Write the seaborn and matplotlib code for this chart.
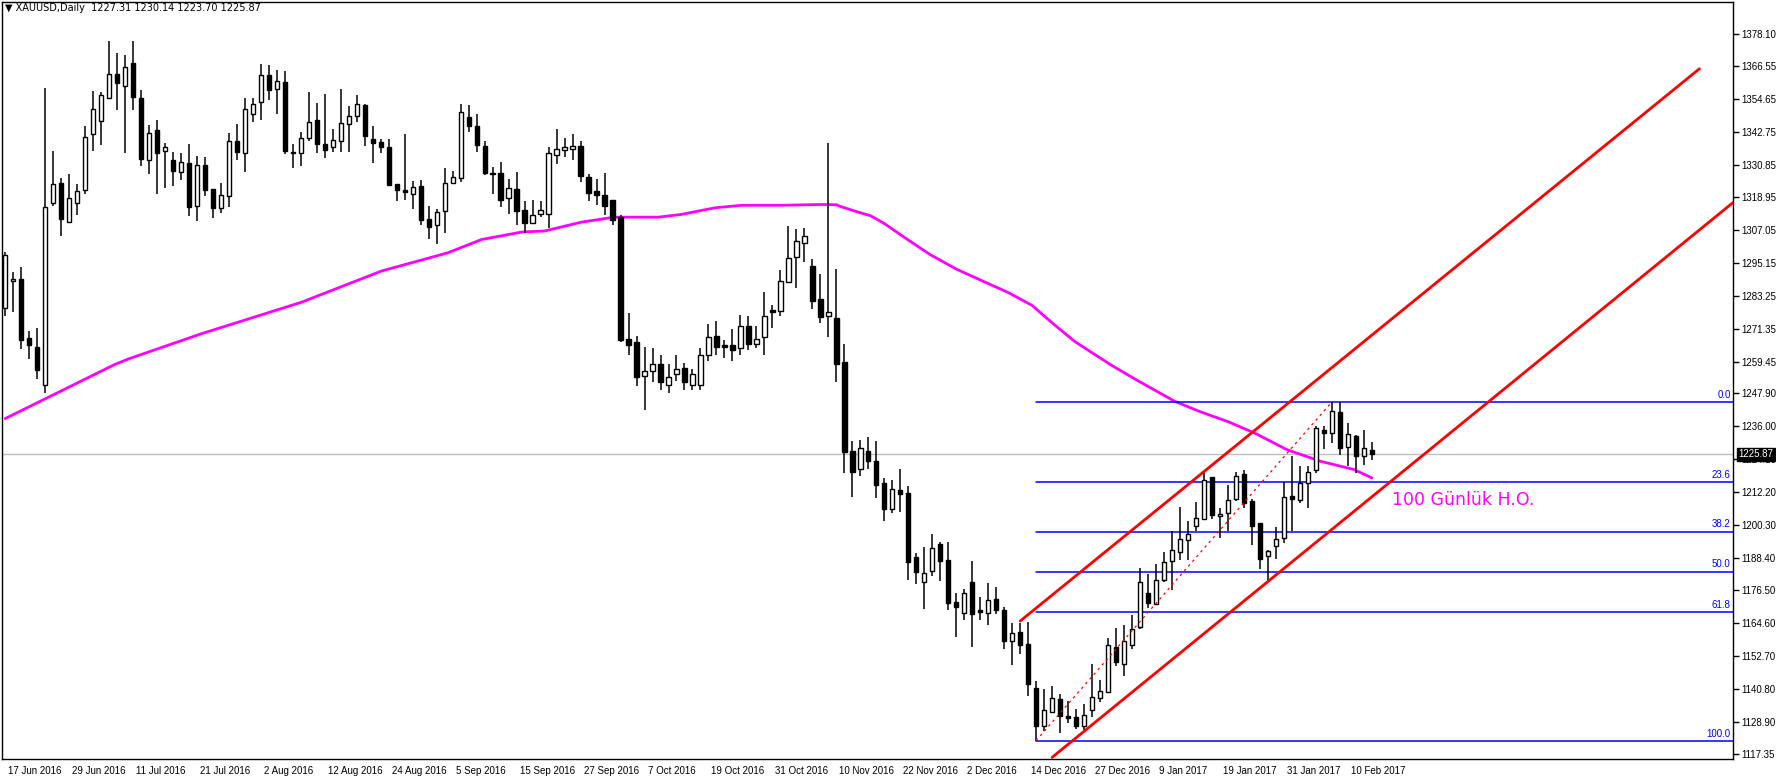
import numpy as np
import pandas as pd
import matplotlib
matplotlib.use("Agg")
import matplotlib.pyplot as plt
import matplotlib.transforms as mtransforms
import seaborn as sns

sns.set_style("white")
plt.rcParams['font.family'] = ['Liberation Sans', 'DejaVu Sans']

# ---------------- data (O, H, L, C per daily bar) ----------------
opens = [1278.9,1288.5,1289.3,1267.9,1264.7,1251.0,1317.1,1324.3,1310.2,1317.1,
         1321.8,1342.1,1346.7,1355.1,1363.8,1359.5,1367.8,1355.1,1332.7,1343.5,
         1335.9,1332.6,1328.3,1331.6,1316.0,1330.8,1322.1,1315.1,1319.3,1339.5,
         1335.2,1349.3,1353.7,1363.4,1358.4,1360.9,1335.2,1335.2,1340.6,1347.1,
         1338.5,1337.2,1339.5,1345.7,1348.6,1352.6,1340.2,1339.2,1337.4,1323.9,
         1321.5,1320.3,1323.2,1311.3,1309.0,1314.2,1324.3,1326.1,1348.2,1345.0,
         1337.7,1327.9,1327.9,1318.9,1322.1,1314.5,1309.8,1313.1,1313.1,1334.5,
         1336.3,1336.6,1337.7,1326.5,1321.4,1320.0,1318.2,1312.0,1267.8,1266.7,
         1254.4,1255.9,1258.7,1251.0,1255.1,1257.3,1251.0,1251.0,1262.0,1268.9,
         1265.3,1265.3,1264.5,1272.5,1266.0,1268.4,1278.2,1277.7,1288.3,1297.5,
         1302.5,1294.2,1282.2,1276.0,1275.3,1259.3,1226.9,1220.7,1226.9,1223.6,
         1215.3,1206.1,1212.8,1211.7,1188.5,1179.5,1183.4,1193.2,1187.4,1172.2,
         1168.2,1179.5,1169.3,1168.2,1173.3,1169.3,1158.1,1161.3,1157.1,1141.1,
         1127.5,1132.6,1137.1,1131.1,1130.8,1127.2,1133.0,1137.4,1139.6,1155.9,
         1149.8,1156.7,1163.2,1175.5,1171.5,1180.2,1187.1,1190.4,1194.8,1199.8,
         1202.4,1217.6,1203.5,1204.6,1209.6,1218.7,1208.9,1200.9,1189.0,1192.6,
         1195.5,1210.7,1209.3,1215.4,1220.2,1234.7,1233.6,1241.2,1228.5,1232.5,
         1225.2,1227.31]
highs = [1299.3,1291.8,1293.9,1270.4,1271.5,1358.5,1335.7,1326.1,1327.6,1323.9,
         1344.7,1357.6,1357.0,1375.5,1371.2,1370.7,1375.5,1358.0,1345.3,1347.1,
         1338.8,1335.5,1335.2,1338.5,1334.1,1333.7,1322.1,1324.3,1342.4,1345.7,
         1355.1,1355.1,1367.4,1366.8,1365.2,1364.9,1338.5,1342.8,1357.3,1353.3,
         1356.6,1343.9,1358.4,1352.2,1356.2,1352.9,1344.9,1340.2,1340.2,1323.9,
         1342.1,1325.0,1325.4,1316.0,1314.9,1329.7,1328.7,1352.9,1352.6,1349.3,
         1339.5,1330.1,1331.9,1325.8,1328.3,1317.8,1318.2,1317.8,1337.4,1343.9,
         1340.6,1342.1,1339.5,1327.6,1325.8,1327.9,1318.2,1312.7,1276.9,1268.9,
         1264.9,1264.5,1261.7,1258.4,1261.7,1259.1,1256.6,1264.2,1272.9,1274.0,
         1267.4,1271.4,1276.2,1275.8,1272.2,1284.7,1280.0,1292.7,1308.7,1307.6,
         1308.0,1296.7,1291.3,1338.6,1293.1,1266.0,1230.5,1230.9,1232.3,1230.5,
         1217.1,1216.7,1220.4,1214.2,1189.9,1192.1,1196.8,1193.9,1193.9,1175.5,
         1176.9,1187.1,1174.0,1179.1,1177.6,1170.4,1164.6,1164.6,1165.0,1143.6,
         1140.7,1141.8,1138.9,1136.4,1133.4,1135.2,1149.8,1144.0,1159.4,1162.8,
         1163.9,1167.6,1184.6,1182.4,1186.1,1190.4,1197.9,1206.7,1201.7,1208.5,
         1219.1,1217.6,1206.4,1214.7,1219.4,1220.2,1209.6,1200.9,1191.1,1199.5,
         1215.8,1225.2,1221.6,1221.6,1236.1,1236.1,1244.8,1244.8,1237.2,1232.9,
         1234.7,1230.14]
lows = [1276.1,1277.6,1264.1,1260.5,1253.0,1248.0,1316.0,1305.0,1309.7,1312.6,
        1320.2,1335.8,1338.0,1355.1,1350.6,1335.1,1350.6,1330.4,1327.5,1320.2,
        1322.4,1323.1,1325.3,1312.3,1310.4,1319.5,1311.5,1313.3,1315.5,1332.5,
        1328.3,1346.4,1347.1,1354.4,1349.3,1334.8,1329.8,1330.5,1339.5,1335.2,
        1333.4,1335.5,1335.5,1335.5,1346.4,1337.7,1331.6,1335.2,1323.0,1317.8,
        1318.2,1314.9,1309.0,1304.0,1302.2,1305.9,1323.9,1324.7,1342.8,1335.5,
        1327.2,1320.3,1315.6,1313.1,1309.1,1305.9,1309.5,1312.0,1307.7,1331.2,
        1333.7,1332.6,1324.7,1317.8,1316.3,1312.7,1309.1,1266.4,1261.7,1250.5,
        1242.0,1252.0,1249.0,1248.0,1252.6,1249.0,1249.0,1249.0,1259.8,1262.0,
        1260.6,1259.8,1261.7,1263.8,1264.2,1262.0,1271.6,1276.0,1287.9,1286.1,
        1295.5,1278.5,1273.4,1268.4,1252.0,1219.0,1210.5,1218.1,1220.6,1210.1,
        1201.8,1204.7,1205.0,1180.4,1179.0,1169.7,1181.6,1179.8,1169.3,1159.5,
        1165.7,1155.9,1165.7,1164.1,1167.9,1155.2,1149.6,1153.4,1138.2,1122.1,
        1125.7,1132.0,1125.0,1128.6,1126.4,1125.9,1130.8,1135.9,1139.6,1149.0,
        1145.4,1155.2,1162.5,1170.1,1171.5,1179.5,1176.6,1187.5,1187.5,1198.0,
        1202.4,1202.4,1195.5,1198.0,1208.9,1206.4,1192.9,1184.2,1180.2,1187.9,
        1193.7,1198.0,1208.2,1206.4,1219.1,1227.8,1229.9,1225.6,1221.6,1219.1,
        1222.0,1223.70]
closes = [1298.2,1289.5,1267.3,1265.5,1256.5,1315.4,1323.8,1311.2,1318.9,1321.4,
          1341.0,1351.1,1356.2,1363.8,1360.4,1366.3,1355.4,1332.9,1342.4,1335.1,
          1337.4,1328.5,1331.9,1315.5,1330.8,1321.7,1315.1,1320.0,1339.5,1335.5,
          1351.1,1352.9,1363.4,1358.0,1361.3,1335.9,1335.2,1340.6,1346.4,1338.5,
          1336.3,1339.6,1346.0,1348.6,1352.9,1341.3,1338.8,1337.4,1323.6,1321.8,
          1321.0,1322.9,1310.6,1308.4,1313.5,1324.3,1326.5,1350.0,1345.0,1338.1,
          1327.9,1327.6,1318.2,1322.5,1314.2,1309.8,1312.7,1314.5,1335.2,1336.6,
          1337.4,1337.7,1326.9,1320.7,1320.0,1316.0,1310.9,1267.1,1265.6,1253.7,
          1256.2,1258.4,1252.0,1254.0,1256.9,1252.0,1254.8,1261.7,1268.5,1264.9,
          1264.9,1263.8,1272.5,1266.0,1267.8,1276.0,1277.5,1288.7,1297.1,1303.3,
          1305.1,1281.5,1275.7,1277.5,1258.5,1226.6,1219.5,1228.0,1223.5,1214.9,
          1206.1,1213.1,1211.3,1186.9,1183.1,1182.8,1191.8,1187.1,1171.8,1170.4,
          1175.5,1168.1,1168.6,1172.9,1169.3,1158.1,1161.0,1156.6,1142.5,1127.2,
          1133.0,1137.4,1131.1,1130.1,1127.2,1131.5,1137.7,1139.9,1156.7,1150.5,
          1158.1,1162.5,1179.5,1171.9,1180.2,1186.8,1191.1,1195.1,1197.0,1202.7,
          1216.5,1203.8,1204.2,1209.3,1218.0,1208.2,1199.8,1187.9,1190.8,1195.1,
          1210.4,1209.6,1215.4,1219.4,1235.4,1233.6,1241.4,1228.1,1233.2,1225.2,
          1228.1,1225.87]

# 100-day moving average (read points: bar index, value)
ma_bar = [0, 13.7, 15.5, 24.6, 37.1, 47.1, 55.4, 59.6, 64.6, 67.5, 72.1, 76.2, 81.7,
          84.6, 88.8, 92.1, 97.1, 102.1, 104.0, 104.6, 107.1, 108.3, 110.0, 112.5,
          115.7, 119.0, 122.8, 125.5, 128.5, 131.0, 133.8, 135.6, 138.5, 141.5,
          146.3, 149.6, 152.9, 156.3, 160.4, 164.6, 168.8, 171.0]
ma_val = [1238.8, 1258.4, 1260.5, 1269.6, 1281.0, 1292.3, 1298.9, 1303.7, 1306.4,
          1306.8, 1310.0, 1311.8, 1311.8, 1312.8, 1315.2, 1316.1, 1316.1, 1316.4,
          1316.3, 1315.6, 1313.3, 1312.3, 1309.5, 1304.5, 1298.3, 1293.0, 1288.0,
          1284.5, 1279.8, 1273.5, 1266.8, 1263.4, 1258.0, 1252.9, 1245.1, 1241.2,
          1237.8, 1233.6, 1227.5, 1223.3, 1220.3, 1217.3]

date_labels = ["17 Jun 2016", "29 Jun 2016", "11 Jul 2016", "21 Jul 2016", "2 Aug 2016",
               "12 Aug 2016", "24 Aug 2016", "5 Sep 2016", "15 Sep 2016", "27 Sep 2016",
               "7 Oct 2016", "19 Oct 2016", "31 Oct 2016", "10 Nov 2016", "22 Nov 2016",
               "2 Dec 2016", "14 Dec 2016", "27 Dec 2016", "9 Jan 2017", "19 Jan 2017",
               "31 Jan 2017", "10 Feb 2017"]
date_bars = [8 * k for k in range(len(date_labels))]

price_ticks = [1117.35, 1128.90, 1140.80, 1152.70, 1164.60, 1176.50, 1188.40, 1200.30,
               1212.20, 1224.10, 1236.00, 1247.90, 1259.45, 1271.35, 1283.25, 1295.15,
               1307.05, 1318.95, 1330.85, 1342.75, 1354.65, 1366.55, 1378.10]

fib_high, fib_low = 1244.85, 1121.75
fib_start_bar = 129
fib_levels = [0.0, 23.6, 38.2, 50.0, 61.8, 100.0]

chan_upper_x = [127, 212]
chan_upper_y = [1165.4, 1365.6]
chan_lower_x = [131, 216.2]
chan_lower_y = [1116.0, 1317.1]
diag_x = [129, 166]
diag_y = [1122.1, 1244.8]

last_price = 1225.87

# ---------------- figure ----------------
W, H = 1776, 780
fig = plt.figure(figsize=(W / 100, H / 100), dpi=100)
ax = fig.add_axes([2 / W, 21 / H, 1731 / W, 757 / H])

df = pd.DataFrame({"bar": np.arange(len(opens)), "open": opens, "high": highs,
                   "low": lows, "close": closes})
up = df["close"] >= df["open"]

ax.vlines(df["bar"], df["low"], df["high"], color="black", lw=1.1, zorder=3)
body_lo = np.minimum(df["open"], df["close"])
body_h = np.maximum(np.abs(df["close"] - df["open"]), 0.35)
ax.bar(df["bar"][up], body_h[up], bottom=body_lo[up], width=0.55,
       color="white", edgecolor="black", linewidth=1.0, zorder=4)
ax.bar(df["bar"][~up], body_h[~up], bottom=body_lo[~up], width=0.55,
       color="black", edgecolor="black", linewidth=1.0, zorder=4)

# moving average
sns.lineplot(x=ma_bar, y=ma_val, color="#ff00ff", lw=2.0, sort=False, ax=ax, zorder=2)

# last price line
ax.axhline(last_price, color="#c0c0c0", lw=1.0, zorder=1)

# fibonacci
xmax = 216.2
for lv in fib_levels:
    y = fib_high - (fib_high - fib_low) * lv / 100.0
    ax.plot([fib_start_bar, xmax], [y, y], color="#0000ff", lw=1.1, zorder=2)
    ax.text(xmax - 0.3, y + 0.8, f"{lv:.1f}", color="#0000ff", fontsize=7,
            ha="right", va="bottom", zorder=5)

# channel
ax.plot(chan_upper_x, chan_upper_y, color="#ff0000", lw=2.0, zorder=5)
ax.plot(chan_lower_x, chan_lower_y, color="#ff0000", lw=2.0, zorder=5)
ax.plot(diag_x, diag_y, color="#ff0000", lw=0.9, ls=(0, (2, 3)), zorder=5)

ax.text(173.5, 1209.4, "100 Günlük H.O.", color="#ff00ff", fontsize=12.5,
        ha="left", va="center", family=["DejaVu Sans"])

ax.set_xlim(-0.4, xmax)
ax.set_ylim(1115.4, 1389.8)

# axes styling
for s in ax.spines.values():
    s.set_color("black")
    s.set_linewidth(1.0)
ax.yaxis.tick_right()
ax.set_yticks(price_ticks)
ax.set_yticklabels([f"{t:.2f}" for t in price_ticks], fontsize=7)
ax.tick_params(axis="y", direction="out", length=4, width=1, pad=2, colors="black")
ax.set_xticks(date_bars)
ax.set_xticklabels(date_labels, fontsize=7, ha="left")
ax.tick_params(axis="x", direction="out", length=4, width=1, pad=1, colors="black")
for lab in ax.get_xticklabels():
    lab.set_transform(lab.get_transform() + mtransforms.ScaledTranslation(3 / 100, 0, fig.dpi_scale_trans))
ax.set_xlabel("")
ax.set_ylabel("")
ax.grid(False)

# price tag
tag_tr = mtransforms.blended_transform_factory(ax.transAxes, ax.transData)
ax.text(1.003, last_price, "1225.87", transform=tag_tr, fontsize=7, color="white",
        va="center", ha="left",
        bbox=dict(boxstyle="square,pad=0.15", fc="black", ec="black"), zorder=10,
        clip_on=False)

fig.text(5 / W, 1 - 8 / H, "▼ XAUUSD,Daily  1227.31 1230.14 1223.70 1225.87",
         fontsize=7, ha="left", va="center", color="black", family=["DejaVu Sans"])

fig.savefig("out.png", dpi=100, facecolor="white")
